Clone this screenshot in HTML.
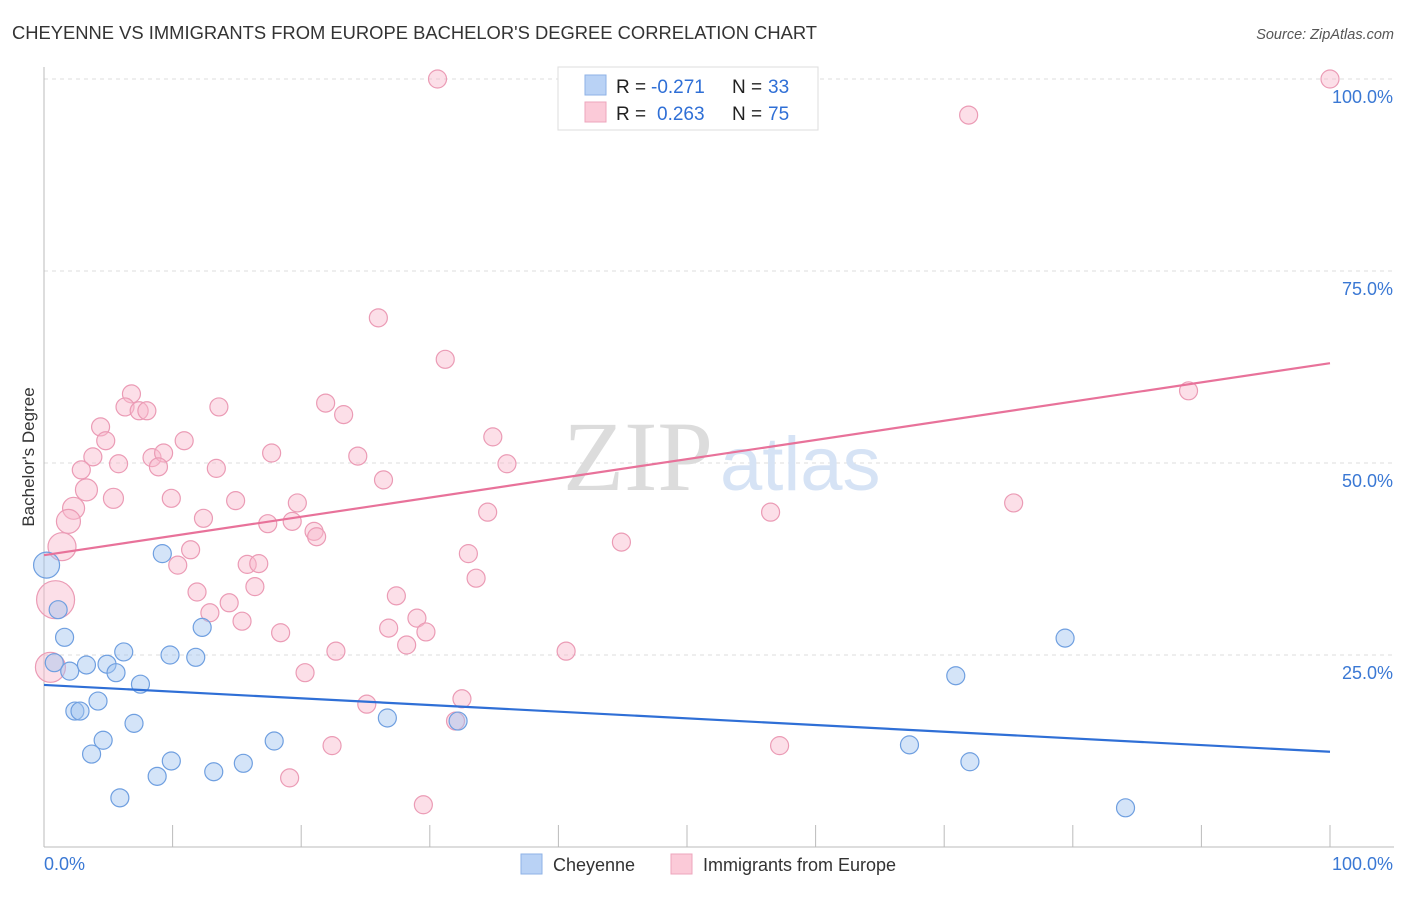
<!DOCTYPE html>
<html><head><meta charset="utf-8"><style>
body{margin:0;background:#fff;font-family:"Liberation Sans",sans-serif;}
svg text{font-family:"Liberation Sans",sans-serif;}
</style></head><body>
<svg id="chart" width="1406" height="892" xmlns="http://www.w3.org/2000/svg">
<text x="12" y="39" font-size="18" fill="#333" textLength="805" lengthAdjust="spacingAndGlyphs">CHEYENNE VS IMMIGRANTS FROM EUROPE BACHELOR'S DEGREE CORRELATION CHART</text>
<text x="1394" y="39" font-size="14.5" fill="#555" text-anchor="end" font-style="italic">Source: ZipAtlas.com</text>
<text transform="translate(34,457) rotate(-90)" font-size="17" fill="#333" text-anchor="middle">Bachelor's Degree</text>
<g id="grid"></g>
<g id="watermark">
<text x="713" y="490" font-size="100" fill="#dcdcdc" text-anchor="end" style="font-family:'Liberation Serif',serif">ZIP</text>
<text x="720" y="490" font-size="76" fill="#d6e3f5">atlas</text>
</g>
<g id="pts"></g>
<g id="lines"></g>
<g>
<rect x="558" y="67" width="260" height="63" fill="#fff" stroke="#ddd"/>
<rect x="585" y="75" width="21" height="20" fill="#b9d2f5" stroke="#8eb2e6"/>
<rect x="585" y="102" width="21" height="20" fill="#fbcad8" stroke="#eea5bc"/>
<text x="616" y="93" font-size="19" fill="#222">R = </text><text x="651" y="93" font-size="19" fill="#2f6fd6">-0.271</text>
<text x="732" y="93" font-size="19" fill="#222">N = </text><text x="768" y="93" font-size="19" fill="#2f6fd6">33</text>
<text x="616" y="120" font-size="19" fill="#222">R = </text><text x="657" y="120" font-size="19" fill="#2f6fd6">0.263</text>
<text x="732" y="120" font-size="19" fill="#222">N = </text><text x="768" y="120" font-size="19" fill="#2f6fd6">75</text>
</g>
<g>
<g><rect x="521" y="854" width="21" height="20" fill="#b9d2f5" stroke="#8eb2e6"/><text x="553" y="871" font-size="18" fill="#333">Cheyenne</text></g>
<g><rect x="671" y="854" width="21" height="20" fill="#fbcad8" stroke="#eea5bc"/><text x="703" y="871" font-size="18" fill="#333">Immigrants from Europe</text></g>
</g>
</svg>
<script>
const yTicks=[25,50,75,100];
const yTickLabels=["25.0%","50.0%","75.0%","100.0%"];
const xTicks=[0,10,20,30,40,50,60,70,80,90,100];
const blueX=[0.2,1.1,1.6,0.8,2.0,3.3,4.9,5.6,6.2,7.5,4.2,2.4,2.8,7.0,4.6,3.7,5.9,8.8,9.9,9.2,9.8,11.8,12.3,13.2,15.5,17.9,26.7,32.2,67.3,70.9,72.0,79.4,84.1];
const blueY=[36.7,30.9,27.3,24.0,22.9,23.7,23.8,22.7,25.4,21.2,19.0,17.7,17.7,16.1,13.9,12.1,6.4,9.2,11.2,38.2,25.0,24.7,28.6,9.8,10.9,13.8,16.8,16.4,13.3,22.3,11.1,27.2,5.1];
const blueR=[13,9,9,9,9,9,9,9,9,9,9,9,9,9,9,9,9,9,9,9,9,9,9,9,9,9,9,9,9,9,9,9,9];
const pinkX=[30.6,100,71.9,26.0,31.2,89.0,6.8,6.3,7.4,8.0,13.6,21.9,23.3,4.4,4.8,10.9,34.9,3.8,8.4,9.3,8.9,17.7,24.4,5.8,13.4,36.0,2.9,3.3,5.4,9.9,14.9,19.7,26.4,2.3,1.9,12.4,17.4,19.3,21.0,21.2,34.5,56.5,75.4,1.4,11.4,10.4,15.8,16.7,33.0,44.9,33.6,16.4,11.9,14.4,12.9,15.4,27.4,29.0,26.8,29.7,18.4,28.2,22.7,40.6,0.9,0.5,20.3,32.5,25.1,32.0,22.4,57.2,19.1,29.5];
const pinkY=[100,100,95.3,68.9,63.5,59.4,59.0,57.3,56.8,56.8,57.3,57.8,56.3,54.7,52.9,52.9,53.4,50.8,50.7,51.3,49.5,51.3,50.9,49.9,49.3,49.9,49.1,46.5,45.4,45.4,45.1,44.8,47.8,44.1,42.4,42.8,42.1,42.4,41.1,40.4,43.6,43.6,44.8,39.1,38.7,36.7,36.8,36.9,38.2,39.7,35.0,33.9,33.2,31.8,30.5,29.4,32.7,29.8,28.5,28.0,27.9,26.3,25.5,25.5,32.2,23.4,22.7,19.3,18.6,16.4,13.2,13.2,9.0,5.5];
const pinkR=[9,9,9,9,9,9,9,9,9,9,9,9,9,9,9,9,9,9,9,9,9,9,9,9,9,9,9,11,10,9,9,9,9,11,12,9,9,9,9,9,9,9,9,14,9,9,9,9,9,9,9,9,9,9,9,9,9,9,9,9,9,9,9,9,19,15,9,9,9,9,9,9,9,9];
const blueTrend=[21.1,12.4];
const pinkTrend=[38.0,63.0];
const NS="http://www.w3.org/2000/svg";
const X=v=>44+v*12.86, Y=v=>847-v*7.68;
function mk(t,a,p){const e=document.createElementNS(NS,t);for(const k in a)e.setAttribute(k,a[k]);p.appendChild(e);return e;}
const grid=document.getElementById('grid');
yTicks.forEach((t,i)=>{
 const l=mk('line',{x1:44,x2:1394,y1:Y(t),y2:Y(t),stroke:'#ddd','stroke-dasharray':'4,4'},grid);
 
 
 const tx=mk('text',{x:1393,y:Y(t)+24,'font-size':18,fill:'#3a78d4','text-anchor':'end'},grid);
 tx.textContent=yTickLabels[i];
 
 
});
let ax=mk('line',{x1:44,x2:44,y1:67,y2:847,stroke:'#bbb'},grid);


ax=mk('line',{x1:44,x2:1394,y1:847,y2:847,stroke:'#bbb'},grid);


xTicks.forEach(t=>{const l=mk('line',{x1:X(t),x2:X(t),y1:825,y2:847,stroke:'#bbb'},grid);
 
 });
let t0=mk('text',{x:44,y:870,'font-size':18,fill:'#3a78d4'},grid);t0.textContent='0.0%';


let t1=mk('text',{x:1393,y:870,'font-size':18,fill:'#3a78d4','text-anchor':'end'},grid);t1.textContent='100.0%';


const pts=document.getElementById('pts');
pinkX.forEach((x,i)=>{const c=mk('circle',{cx:X(x),cy:Y(pinkY[i]),r:pinkR[i],fill:'rgba(248,184,204,0.45)',stroke:'#eb9bb5','stroke-width':1.2},pts);
 
 });
blueX.forEach((x,i)=>{const c=mk('circle',{cx:X(x),cy:Y(blueY[i]),r:blueR[i],fill:'rgba(160,196,240,0.45)',stroke:'#6f9fe0','stroke-width':1.2},pts);
 
 });
const lines=document.getElementById('lines');
let pl=mk('line',{x1:X(0),x2:X(100),y1:Y(pinkTrend[0]),y2:Y(pinkTrend[1]),stroke:'#e8729a','stroke-width':2.2},lines);


let bl=mk('line',{x1:X(0),x2:X(100),y1:Y(blueTrend[0]),y2:Y(blueTrend[1]),stroke:'#2f6fd6','stroke-width':2.2},lines);


</script>
</body></html>
